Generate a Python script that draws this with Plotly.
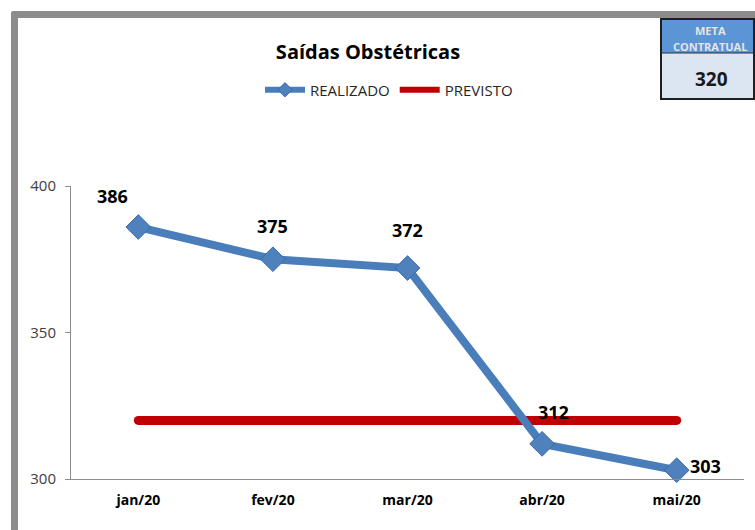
import plotly.graph_objects as go

months = ["jan/20", "fev/20", "mar/20", "abr/20", "mai/20"]
realizado = [386, 375, 372, 312, 303]
previsto = [320, 320, 320, 320, 320]
meta_contratual = 320
y_ticks = [300, 350, 400]

W, H = 755, 530
ML, MR, MT, MB = 71, 11, 186, 51
PW = W - ML - MR
PH = H - MT - MB

def px(x):
    return (x - ML) / PW

def py(y):
    return (H - MB - y) / PH

FONT = "Open Sans"
BLUE = "#4A7EBB"
RED = "#C00000"

fig = go.Figure()
# data traces (legend handled by legend-only traces below)
fig.add_trace(go.Scatter(
    x=months, y=previsto, name="PREVISTO", mode="lines+markers",
    line=dict(color=RED, width=9),
    marker=dict(symbol="circle", size=9, color=RED, line=dict(width=0)),
    cliponaxis=False, showlegend=False, hoverinfo="skip",
))
fig.add_trace(go.Scatter(
    x=months, y=realizado, name="REALIZADO", mode="lines+markers",
    line=dict(color=BLUE, width=8),
    marker=dict(symbol="diamond", size=19, color="#4F81BD",
                line=dict(color="#3A6AA8", width=1)),
    cliponaxis=False, showlegend=False, hoverinfo="skip",
))
# legend entries
fig.add_trace(go.Scatter(
    x=[None], y=[None], name="REALIZADO", mode="lines+markers",
    line=dict(color=BLUE, width=6),
    marker=dict(symbol="diamond", size=11, color="#4F81BD",
                line=dict(color="#3A6AA8", width=1)),
    legendrank=1,
))
fig.add_trace(go.Scatter(
    x=[None], y=[None], name="PREVISTO", mode="lines",
    line=dict(color=RED, width=6), legendrank=2,
))

# data labels (offsets in px relative to each point)
offsets = [(-26, 31), (0, 33), (0, 38), (11, 32), (29, 4)]
for m, v, (dx, dy) in zip(months, realizado, offsets):
    fig.add_annotation(x=m, y=v, text=f"<b>{v}</b>", showarrow=False,
                       xshift=dx, yshift=dy, xanchor="center", yanchor="middle",
                       font=dict(family=FONT, size=18, color="#000000"))

shapes = [
    # gray frame (left and top)
    dict(type="rect", xref="paper", yref="paper",
         x0=px(11), x1=px(18), y0=py(H + 5), y1=py(13), fillcolor="#8C8C8C",
         line=dict(width=0), layer="above"),
    dict(type="rect", xref="paper", yref="paper",
         x0=px(13), x1=px(W + 5), y0=py(18), y1=py(11), fillcolor="#8C8C8C",
         line=dict(width=0), layer="above"),
    dict(type="circle", xref="paper", yref="paper",
         x0=px(11), x1=px(15), y0=py(15), y1=py(11), fillcolor="#8C8C8C",
         line=dict(width=0), layer="above"),
    # meta box
    dict(type="rect", xref="paper", yref="paper",
         x0=px(661), x1=px(754), y0=py(53), y1=py(19), fillcolor="#5B95D6",
         line=dict(width=0), layer="below"),
    dict(type="rect", xref="paper", yref="paper",
         x0=px(661), x1=px(754), y0=py(99), y1=py(53), fillcolor="#DCE6F2",
         line=dict(width=0), layer="below"),
    dict(type="rect", xref="paper", yref="paper",
         x0=px(661), x1=px(754), y0=py(99), y1=py(19), fillcolor="rgba(0,0,0,0)",
         line=dict(width=2, color="#1F1F1F"), layer="below"),
    dict(type="line", xref="paper", yref="paper",
         x0=px(661), x1=px(754), y0=py(53), y1=py(53),
         line=dict(width=1, color="#2F2F2F"), layer="below"),
]

for txt, yy in (("META", 31), ("CONTRATUAL", 46)):
    fig.add_annotation(xref="paper", yref="paper", x=px(710), y=py(yy),
                       text=f"<b>{txt}</b>", showarrow=False,
                       xanchor="center", yanchor="middle",
                       font=dict(family=FONT, size=11, color="#E4E4E4"))
fig.add_annotation(xref="paper", yref="paper", x=px(711), y=py(79),
                   text=f"<b>{meta_contratual}</b>", showarrow=False,
                   xanchor="center", yanchor="middle",
                   font=dict(family=FONT, size=19, color="#1A1A1A"))

fig.update_layout(
    width=W, height=H,
    margin=dict(l=ML, r=MR, t=MT, b=MB, autoexpand=False),
    paper_bgcolor="white", plot_bgcolor="white",
    title=dict(text="<b>Saídas Obstétricas</b>", x=368 / W, xanchor="center",
               y=1 - 52 / H, yanchor="middle",
               font=dict(family=FONT, size=20, color="#000000")),
    legend=dict(orientation="h", x=px(389), xanchor="center",
                y=py(90), yanchor="middle",
                font=dict(family=FONT, size=15, color="#262626"),
                bgcolor="rgba(0,0,0,0)", itemwidth=40, tracegroupgap=0),
    xaxis=dict(type="category", categoryorder="array", categoryarray=months,
               range=[-0.5, 4.5], showgrid=False, showline=True,
               linecolor="#8C8C8C", linewidth=1, ticks="", zeroline=False,
               tickfont=dict(family=FONT, size=14, color="#000000"),
               ticklabelstandoff=8,
               tickprefix="<b>", ticksuffix="</b>", fixedrange=True),
    yaxis=dict(range=[300, 400], tickvals=y_ticks, showgrid=False,
               showline=True, linecolor="#8C8C8C", linewidth=1,
               ticks="outside", ticklen=5, tickcolor="#8C8C8C",
               zeroline=False, ticklabelstandoff=6, fixedrange=True,
               tickfont=dict(family=FONT, size=15, color="#404040")),
    shapes=shapes,
    showlegend=True,
    hovermode=False,
)

fig.write_html("out.html", config={"displayModeBar": False, "staticPlot": True})
with open("out.html", encoding="utf-8") as f:
    html = f.read()
html = html.replace("<head>", "<head><style>html,body{margin:0;padding:0;overflow:hidden;}</style>", 1)
with open("out.html", "w", encoding="utf-8") as f:
    f.write(html)
